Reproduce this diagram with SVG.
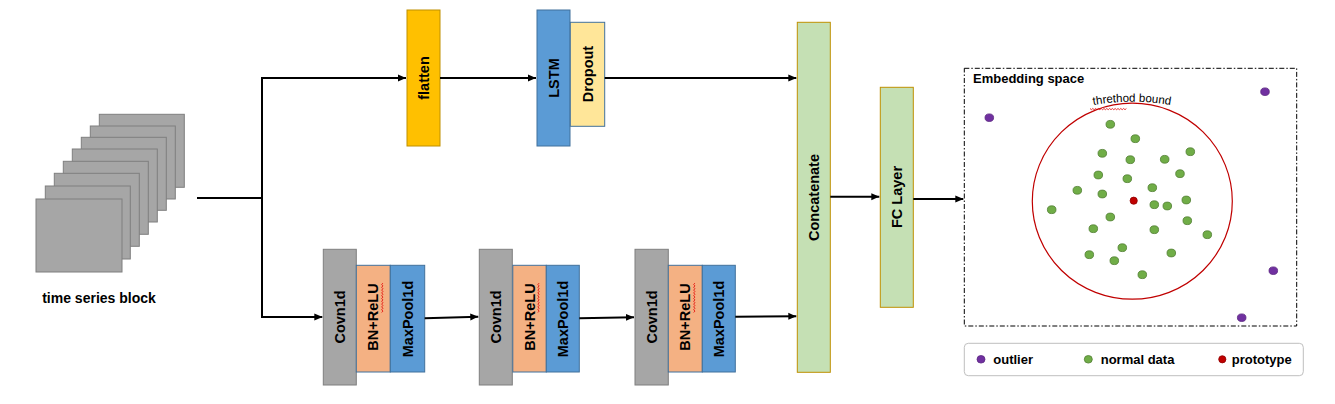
<svg xmlns="http://www.w3.org/2000/svg" width="1335" height="404" viewBox="0 0 1335 404">
<style>
text{font-family:"Liberation Sans",Arial,sans-serif;font-weight:bold;fill:#000}
.lbl{font-size:14.5px;text-anchor:middle}
.sq{fill:#a6a6a6;stroke:#7f7f7f;stroke-width:1}
.conv{fill:#a6a6a6;stroke:#7f7f7f;stroke-width:1}
.bn{fill:#f4b183;stroke:#41719c;stroke-width:1}
.mp{fill:#5b9bd5;stroke:#41719c;stroke-width:1}
.fl{fill:#ffc000;stroke:#bf9000;stroke-width:1}
.lstm{fill:#5b9bd5;stroke:#41719c;stroke-width:1}
.drop{fill:#ffe699;stroke:#41719c;stroke-width:1}
.grn{fill:#c5e0b4;stroke:#bf9000;stroke-width:1}
.con{stroke:#000;stroke-width:2;fill:none}
.arr{marker-end:url(#ah)}
.wavy{stroke:#e00000;stroke-width:0.8;fill:none}
.g{fill:#70ad47;stroke:#507e32;stroke-width:0.8}
.p{fill:#7030a0;stroke:#5a2680;stroke-width:0.8}
.r{fill:#c00000;stroke:#900000;stroke-width:0.8}
.leg{font-size:13px}
</style>
<defs>
<marker id="ah" markerUnits="userSpaceOnUse" markerWidth="8" markerHeight="8" refX="8" refY="4" orient="auto">
<path d="M0,0.5 L8,4 L0,7.5 z" fill="#000"/>
</marker>
<path id="arc" d="M1081,107.5 A228,228 0 0 1 1183,107.5"/>
</defs>

<g id="time-series-block">
<rect class="sq" x="99.3" y="114.3" width="85" height="73"/>
<rect class="sq" x="90.3" y="126" width="85" height="73"/>
<rect class="sq" x="81.3" y="137.3" width="85" height="73"/>
<rect class="sq" x="72.3" y="149" width="85" height="73"/>
<rect class="sq" x="63.3" y="161.3" width="85" height="73"/>
<rect class="sq" x="54.3" y="173.3" width="85" height="73"/>
<rect class="sq" x="45.3" y="186" width="85" height="73"/>
<rect class="sq" x="36" y="199" width="86" height="73"/>
<text x="99" y="303" style="font-size:14px;text-anchor:middle">time series block</text>
</g>

<g id="flatten">
<rect class="fl" x="407" y="10" width="33" height="136"/>
<text class="lbl" transform="translate(423.5,78) rotate(-90)" y="5">flatten</text>
</g>

<g id="lstm">
<rect class="lstm" x="537" y="10" width="33" height="136"/>
<text class="lbl" transform="translate(553.5,78) rotate(-90)" y="5">LSTM</text>
</g>
<g id="dropout">
<rect class="drop" x="570.3" y="22.3" width="34.4" height="104"/>
<text class="lbl" transform="translate(587.5,74) rotate(-90)" y="5">Dropout</text>
</g>

<g id="conv-block-1">
<rect class="conv" x="323.3" y="249.3" width="33" height="135.7"/>
<text class="lbl" transform="translate(339.8,317) rotate(-90)" y="5">Covn1d</text>
<rect class="bn" x="356.3" y="265.3" width="34" height="106.7"/>
<text class="lbl" transform="translate(373.3,317) rotate(-90)" y="5">BN+ReLU</text>
<path class="wavy" d="M381.7,312.5 l1.2,-1.4 l-1.2,-1.4 l1.2,-1.4 l-1.2,-1.4 l1.2,-1.4 l-1.2,-1.4 l1.2,-1.4 l-1.2,-1.4 l1.2,-1.4 l-1.2,-1.4 l1.2,-1.4 l-1.2,-1.4 l1.2,-1.4 l-1.2,-1.4 l1.2,-1.4 l-1.2,-1.4 l1.2,-1.4 l-1.2,-1.4 l1.2,-1.4 l-1.2,-1.4 l1.2,-1.4"/>
<rect class="mp" x="390.3" y="265.3" width="34.4" height="106.7"/>
<text class="lbl" transform="translate(407.5,319) rotate(-90)" y="5">MaxPool1d</text>
</g>

<g id="conv-block-2">
<rect class="conv" x="479.3" y="249.3" width="33" height="135.7"/>
<text class="lbl" transform="translate(495.8,317) rotate(-90)" y="5">Covn1d</text>
<rect class="bn" x="512.8" y="265.3" width="33.5" height="106.7"/>
<text class="lbl" transform="translate(529.5,317) rotate(-90)" y="5">BN+ReLU</text>
<path class="wavy" d="M537.9,312.5 l1.2,-1.4 l-1.2,-1.4 l1.2,-1.4 l-1.2,-1.4 l1.2,-1.4 l-1.2,-1.4 l1.2,-1.4 l-1.2,-1.4 l1.2,-1.4 l-1.2,-1.4 l1.2,-1.4 l-1.2,-1.4 l1.2,-1.4 l-1.2,-1.4 l1.2,-1.4 l-1.2,-1.4 l1.2,-1.4 l-1.2,-1.4 l1.2,-1.4 l-1.2,-1.4 l1.2,-1.4"/>
<rect class="mp" x="546.3" y="265.3" width="33" height="106.7"/>
<text class="lbl" transform="translate(562.8,319) rotate(-90)" y="5">MaxPool1d</text>
</g>

<g id="conv-block-3">
<rect class="conv" x="635" y="249.3" width="33.3" height="135.7"/>
<text class="lbl" transform="translate(651.6,317) rotate(-90)" y="5">Covn1d</text>
<rect class="bn" x="668.3" y="265.3" width="34" height="106.7"/>
<text class="lbl" transform="translate(685.3,317) rotate(-90)" y="5">BN+ReLU</text>
<path class="wavy" d="M693.7,312.5 l1.2,-1.4 l-1.2,-1.4 l1.2,-1.4 l-1.2,-1.4 l1.2,-1.4 l-1.2,-1.4 l1.2,-1.4 l-1.2,-1.4 l1.2,-1.4 l-1.2,-1.4 l1.2,-1.4 l-1.2,-1.4 l1.2,-1.4 l-1.2,-1.4 l1.2,-1.4 l-1.2,-1.4 l1.2,-1.4 l-1.2,-1.4 l1.2,-1.4 l-1.2,-1.4 l1.2,-1.4"/>
<rect class="mp" x="702.3" y="265.3" width="33" height="106.7"/>
<text class="lbl" transform="translate(718.8,319) rotate(-90)" y="5">MaxPool1d</text>
</g>

<g id="concatenate">
<rect class="grn" x="797.3" y="22.3" width="33" height="350"/>
<text class="lbl" transform="translate(813.8,197.5) rotate(-90)" y="5">Concatenate</text>
</g>

<g id="fc-layer">
<rect class="grn" x="880.3" y="87.3" width="33" height="220"/>
<text class="lbl" transform="translate(896.8,197) rotate(-90)" y="5">FC Layer</text>
</g>

<g id="embedding-space">
<rect x="964.3" y="68.3" width="332.4" height="257.7" fill="none" stroke="#000" stroke-width="1" stroke-dasharray="5 2 1.5 2"/>
<text x="973" y="83" style="font-size:13px">Embedding space</text>
<ellipse cx="1132.3" cy="201.2" rx="100" ry="98" fill="none" stroke="#c00000" stroke-width="1.2"/>
<text style="font-size:11.5px;font-weight:normal;text-anchor:middle;fill:#000"><textPath href="#arc" startOffset="50%" fill="#000">threthod bound</textPath></text>
<path class="wavy" d="M1090,108.5 l1.4,1.2 l1.4,-1.2 l1.4,1.2 l1.4,-1.2 l1.4,1.2 l1.4,-1.2 l1.4,1.2 l1.4,-1.2 l1.4,1.2 l1.4,-1.2 l1.4,1.2 l1.4,-1.2 l1.4,1.2 l1.4,-1.2 l1.4,1.2 l1.4,-1.2 l1.4,1.2 l1.4,-1.2 l1.4,1.2 l1.4,-1.2 l1.4,1.2 l1.4,-1.2 l1.4,1.2 l1.4,-1.2 l1.4,1.2 l1.4,-1.2"/>
<ellipse class="p" cx="989.3" cy="117.7" rx="4.3" ry="3.8"/>
<ellipse class="p" cx="1265" cy="91.7" rx="4.3" ry="3.8"/>
<ellipse class="p" cx="1273.3" cy="270.7" rx="4.3" ry="3.8"/>
<ellipse class="p" cx="1241.7" cy="317.7" rx="4.3" ry="3.8"/>
<ellipse class="r" cx="1133.7" cy="200.7" rx="3.6" ry="3.6"/>
<ellipse class="g" cx="1110.3" cy="124.3" rx="4.3" ry="3.9"/>
<ellipse class="g" cx="1135.3" cy="138.7" rx="4.3" ry="3.9"/>
<ellipse class="g" cx="1102.3" cy="153.3" rx="4.3" ry="3.9"/>
<ellipse class="g" cx="1130.3" cy="159.7" rx="4.3" ry="3.9"/>
<ellipse class="g" cx="1164.7" cy="159.3" rx="4.3" ry="3.9"/>
<ellipse class="g" cx="1190.3" cy="151.7" rx="4.3" ry="3.9"/>
<ellipse class="g" cx="1098.3" cy="175" rx="4.3" ry="3.9"/>
<ellipse class="g" cx="1127.3" cy="178.7" rx="4.3" ry="3.9"/>
<ellipse class="g" cx="1180" cy="173.7" rx="4.3" ry="3.9"/>
<ellipse class="g" cx="1077.3" cy="190.3" rx="4.3" ry="3.9"/>
<ellipse class="g" cx="1102.3" cy="194" rx="4.3" ry="3.9"/>
<ellipse class="g" cx="1152.3" cy="187.7" rx="4.3" ry="3.9"/>
<ellipse class="g" cx="1051.7" cy="209.7" rx="4.3" ry="3.9"/>
<ellipse class="g" cx="1154.3" cy="204.7" rx="4.3" ry="3.9"/>
<ellipse class="g" cx="1167.3" cy="206" rx="4.3" ry="3.9"/>
<ellipse class="g" cx="1186.3" cy="200" rx="4.3" ry="3.9"/>
<ellipse class="g" cx="1110.3" cy="217" rx="4.3" ry="3.9"/>
<ellipse class="g" cx="1093.3" cy="228.7" rx="4.3" ry="3.9"/>
<ellipse class="g" cx="1154.3" cy="229.7" rx="4.3" ry="3.9"/>
<ellipse class="g" cx="1187.3" cy="220.7" rx="4.3" ry="3.9"/>
<ellipse class="g" cx="1207.3" cy="234.7" rx="4.3" ry="3.9"/>
<ellipse class="g" cx="1122.3" cy="247.7" rx="4.3" ry="3.9"/>
<ellipse class="g" cx="1089.3" cy="254.7" rx="4.3" ry="3.9"/>
<ellipse class="g" cx="1114.3" cy="260.7" rx="4.3" ry="3.9"/>
<ellipse class="g" cx="1171.3" cy="253" rx="4.3" ry="3.9"/>
<ellipse class="g" cx="1142.3" cy="274.7" rx="4.3" ry="3.9"/>
</g>

<g id="legend">
<rect x="964.3" y="343.3" width="339" height="32.4" rx="4" fill="#fff" stroke="#bfbfbf" stroke-width="1"/>
<ellipse class="p" cx="981" cy="359.3" rx="4" ry="3.8"/>
<text class="leg" x="993.3" y="363.5">outlier</text>
<ellipse class="g" cx="1088.3" cy="359.3" rx="4" ry="3.8"/>
<text class="leg" x="1100.7" y="363.5">normal data</text>
<ellipse class="r" cx="1222.3" cy="359.3" rx="3.6" ry="3.6"/>
<text class="leg" x="1231.7" y="363.5">prototype</text>
</g>

<g id="connectors">
<path class="con" d="M197,198 L262,198"/>
<path class="con" d="M262,78 L262,317"/>
<path class="con arr" d="M261,78 L406,78"/>
<path class="con arr" d="M440,78 L536,78"/>
<path class="con arr" d="M604.7,78 L796.3,78"/>
<path class="con arr" d="M261,317 L322.3,317"/>
<path class="con arr" d="M424.7,318.3 L478.3,316.7"/>
<path class="con arr" d="M579.3,318.3 L634,317.2"/>
<path class="con arr" d="M735.3,316.7 L796.3,316.3"/>
<path class="con arr" d="M830.3,196.7 L879.3,196.7"/>
<path class="con arr" d="M913.3,199 L963.3,199"/>
</g>
</svg>
